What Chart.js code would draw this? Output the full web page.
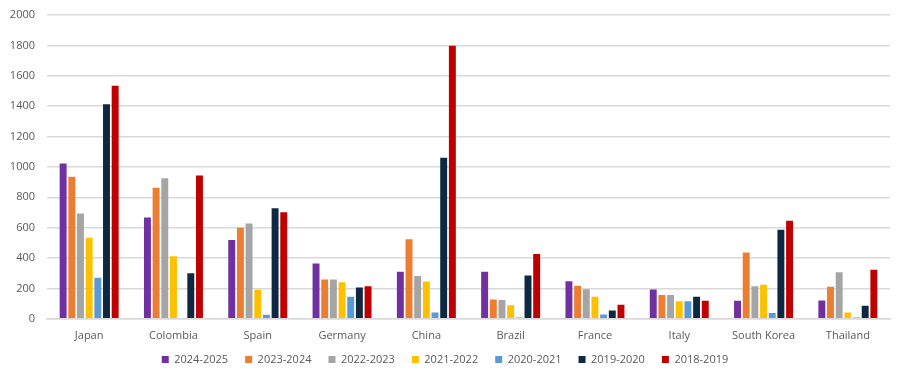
<!DOCTYPE html>
<html>
<head>
<meta charset="utf-8">
<script src="https://cdn.jsdelivr.net/npm/chart.js@4"></script>
<style>
  html, body { margin: 0; padding: 0; background: #fff; }
  #wrap { width: 900px; height: 384px; }
</style>
</head>
<body>
<div id="wrap"><canvas id="chart" width="900" height="384"></canvas></div>
<script>
// Countries along the x axis
const countries = ["Japan", "Colombia", "Spain", "Germany", "China", "Brazil", "France", "Italy", "South Korea", "Thailand"]

// One array per season, same order as countries
const s2024_2025 = [1023, 667, 518, 364, 310, 310, 248, 193, 119, 121]
const s2023_2024 = [935, 863, 600, 259, 524, 127, 217, 156, 437, 211]
const s2022_2023 = [694, 926, 628, 259, 281, 123, 195, 156, 215, 307]
const s2021_2022 = [534, 412, 191, 241, 246, 90, 145, 116, 224, 41]
const s2020_2021 = [270, 0, 26, 145, 41, 9, 28, 116, 39, 9]
const s2019_2020 = [1412, 300, 727, 206, 1061, 285, 55, 145, 586, 86]
const s2018_2019 = [1535, 944, 702, 215, 1798, 426, 92, 119, 646, 323]

const seasonLabels = ["2024-2025", "2023-2024", "2022-2023", "2021-2022", "2020-2021", "2019-2020", "2018-2019"]
const seasonValues = [s2024_2025, s2023_2024, s2022_2023, s2021_2022, s2020_2021, s2019_2020, s2018_2019]
const seasonColors = ["#7030a0", "#ed7d31", "#a5a5a5", "#ffc000", "#5b9bd5", "#0e2841", "#c00000"]

// Y axis range
const yMax = 2000
const yStep = 200

const textColor = "#595959"
const gridColor = "#d9d9d9"
const fontFamily = "'Open Sans', 'Liberation Sans', sans-serif"

const datasets = seasonLabels.map((label, i) => ({
  label: label,
  data: seasonValues[i],
  backgroundColor: seasonColors[i],
  borderWidth: 0,
  categoryPercentage: 0.72,
  barPercentage: 0.8,
}))

// Move the legend up a bit, closer to the country labels
const legendLift = {
  id: "legendLift",
  afterLayout(chart) {
    chart.legend.top -= 15
    chart.legend.bottom -= 15
  },
}

new Chart(document.getElementById("chart").getContext("2d"), {
  type: "bar",
  data: { labels: countries, datasets: datasets },
  plugins: [legendLift],
  options: {
    responsive: false,
    animation: false,
    layout: { padding: { top: 15, right: 10, left: 0, bottom: -6 } },
    scales: {
      x: {
        grid: { display: false, drawTicks: false },
        border: { color: gridColor, width: 1.5 },
        ticks: { color: textColor, font: { family: fontFamily, size: 11 }, padding: 10 },
      },
      y: {
        min: 0,
        max: yMax,
        ticks: {
          stepSize: yStep,
          color: textColor,
          font: { family: fontFamily, size: 11 },
          padding: 12,
          callback: (v) => String(v),
        },
        grid: { color: gridColor, lineWidth: 1.5, drawTicks: false },
        border: { display: false },
        afterFit: (scale) => {
          scale.width = 47
          scale.paddingTop = 0
        },
      },
    },
    plugins: {
      tooltip: { enabled: false },
      legend: {
        position: "bottom",
        labels: {
          color: textColor,
          font: { family: fontFamily, size: 11 },
          boxWidth: 7,
          boxHeight: 7,
          padding: 17,
        },
      },
    },
  },
})
</script>
</body>
</html>
